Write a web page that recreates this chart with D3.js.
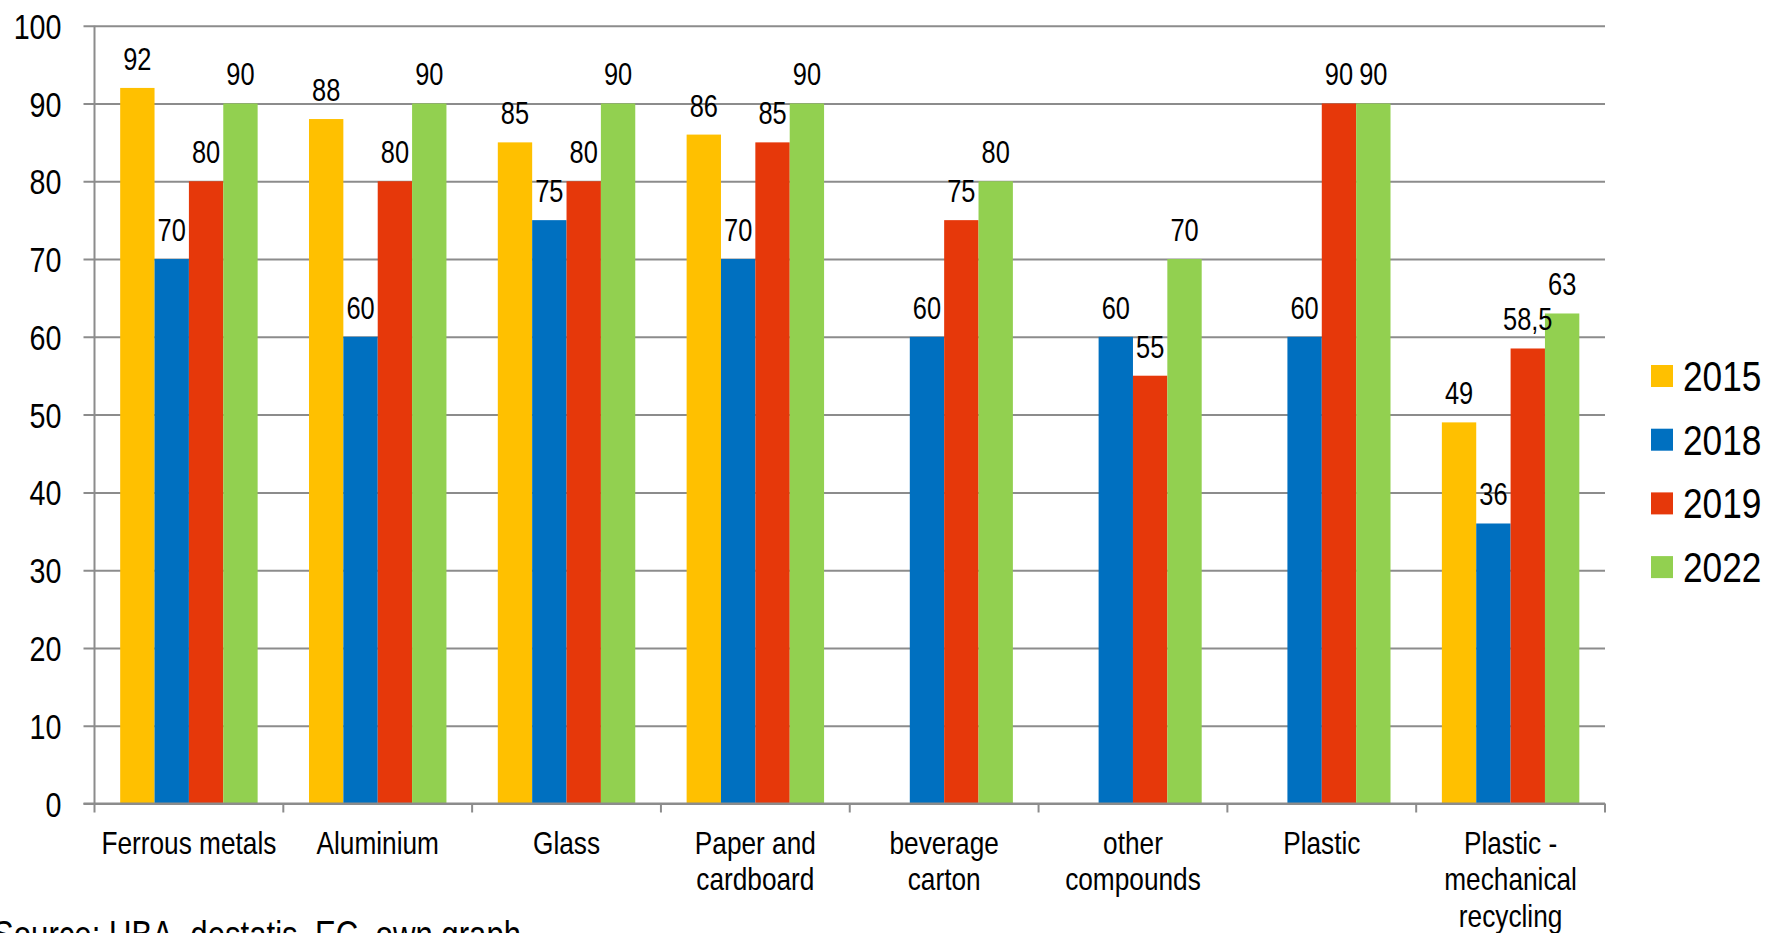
<!DOCTYPE html>
<html>
<head>
<meta charset="utf-8">
<script src="https://cdn.jsdelivr.net/npm/d3@7"></script>
<style>
  body { margin: 0; background: #fff; }
  svg text { font-family: "Liberation Sans", Arial, sans-serif; fill: #000; }
</style>
</head>
<body>
<svg id="chart" width="1779" height="933"></svg>
<script>
var categories = [["Ferrous metals"], ["Aluminium"], ["Glass"], ["Paper and", "cardboard"],
  ["beverage", "carton"], ["other", "compounds"], ["Plastic"], ["Plastic -", "mechanical", "recycling"]];
var years = ["2015", "2018", "2019", "2022"];
var values_2015 = [92, 88, 85, 86, null, null, null, 49];
var values_2018 = [70, 60, 75, 70, 60, 60, 60, 36];
var values_2019 = [80, 80, 80, 85, 75, 55, 90, 58.5];
var values_2022 = [90, 90, 90, 90, 80, 70, 90, 63];
var yTicks = [0, 10, 20, 30, 40, 50, 60, 70, 80, 90, 100];
var colors = ["#FFC000", "#0070C0", "#E6380A", "#92D050"];

var series = [values_2015, values_2018, values_2019, values_2022];
var NARROW = 0.82; // no Arial Narrow here, squeeze Liberation Sans instead

var svg = d3.select("#chart");
var plotL = 94.5, plotR = 1605, plotT = 25.7, plotB = 803.5;

var x = d3.scaleBand().domain(d3.range(categories.length)).range([plotL, plotR]).padding(0);
var gap = x.bandwidth() * 0.136;
var xs = d3.scaleBand().domain(d3.range(years.length)).range([gap, x.bandwidth() - gap]).padding(0);
var y = d3.scaleLinear().domain([0, 100]).range([plotB, plotT]);

var fmt = function(v) { return String(v).replace(".", ","); };

function narrowText(parent, px, py, size, anchor, str) {
  return parent.append("text")
    .attr("transform", "translate(" + px + "," + py + ") scale(" + NARROW + ",1)")
    .attr("text-anchor", anchor)
    .style("font-size", size + "px")
    .text(str);
}

// gridlines + y labels
var yAxis = d3.axisLeft(y).tickValues(yTicks).tickSize(-(plotR - plotL)).tickSizeOuter(0);
var gy = svg.append("g").attr("transform", "translate(" + plotL + ",0)").call(yAxis);
gy.select(".domain").remove();
gy.selectAll(".tick line").attr("stroke", "#8c8c8c").attr("stroke-width", 2).attr("x1", -11);
gy.selectAll(".tick text")
  .attr("x", -33 / NARROW)
  .attr("dy", "0.36em")
  .attr("transform", "scale(" + NARROW + ",1)")
  .style("font-size", "35px")
  .style("font-family", "'Liberation Sans', Arial, sans-serif");

// bars
var bars = [];
series.forEach(function(s, j) {
  s.forEach(function(v, i) {
    if (v != null) bars.push({cat: i, yr: j, value: v});
  });
});

svg.selectAll("rect.bar")
  .data(bars)
  .enter()
  .append("rect")
  .attr("class", "bar")
  .attr("x", function(d) { return x(d.cat) + xs(d.yr); })
  .attr("y", function(d) { return y(d.value); })
  .attr("width", xs.bandwidth())
  .attr("height", function(d) { return y(0) - y(d.value); })
  .attr("fill", function(d) { return colors[d.yr]; });

bars.forEach(function(d) {
  narrowText(svg, x(d.cat) + xs(d.yr) + xs.bandwidth() / 2, y(d.value) - 18, 31, "middle", fmt(d.value));
});

// axes lines
svg.append("line")
  .attr("x1", plotL - 11).attr("x2", plotR)
  .attr("y1", plotB).attr("y2", plotB)
  .attr("stroke", "#8c8c8c").attr("stroke-width", 2);
svg.append("line")
  .attr("x1", plotL).attr("x2", plotL)
  .attr("y1", plotT).attr("y2", plotB + 9)
  .attr("stroke", "#8c8c8c").attr("stroke-width", 2);
svg.selectAll("line.xtick")
  .data(d3.range(1, categories.length + 1))
  .enter()
  .append("line")
  .attr("class", "xtick")
  .attr("x1", function(i) { return plotL + i * x.step(); })
  .attr("x2", function(i) { return plotL + i * x.step(); })
  .attr("y1", plotB).attr("y2", plotB + 9)
  .attr("stroke", "#8c8c8c").attr("stroke-width", 2);

// category labels
categories.forEach(function(lines, i) {
  lines.forEach(function(line, k) {
    narrowText(svg, x(i) + x.bandwidth() / 2, 853.5 + k * 36.5, 32, "middle", line);
  });
});

// legend
years.forEach(function(yr, i) {
  var ly = 365 + i * 63.7;
  svg.append("rect").attr("x", 1651).attr("y", ly).attr("width", 22).attr("height", 22).attr("fill", colors[i]);
  narrowText(svg, 1683, ly + 26, 43, "start", yr);
});

narrowText(svg, -7, 948, 38, "start", "Source: UBA, destatis, EC, own graph");
</script>
</body>
</html>
